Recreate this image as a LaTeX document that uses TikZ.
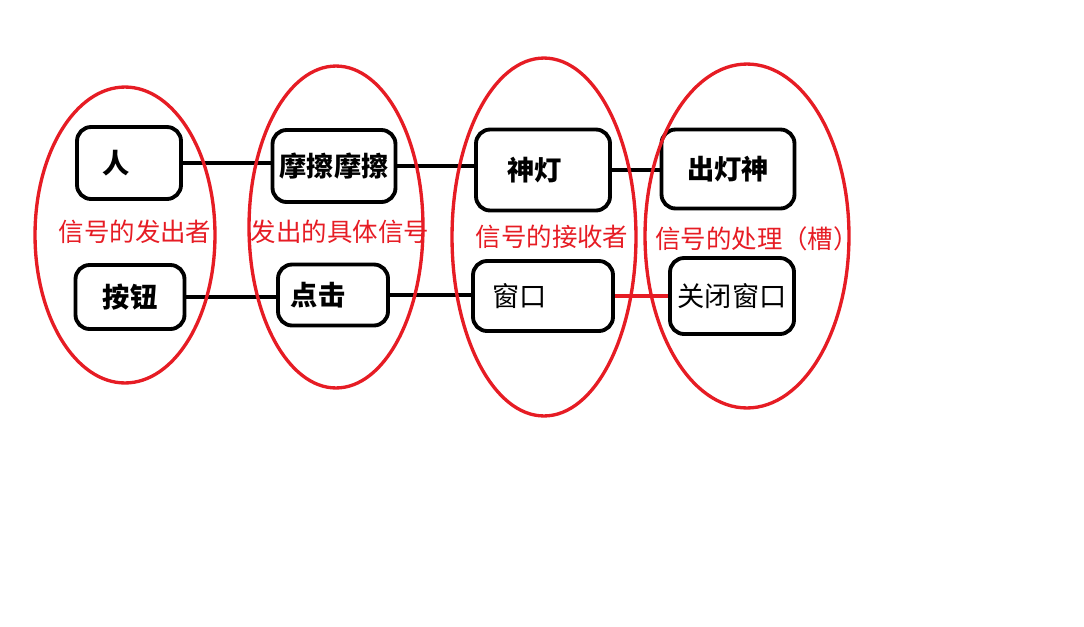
\documentclass[tikz,border=0pt]{standalone}
\usepackage{fontspec}
\newfontfamily\cjk{Noto Sans CJK SC}
\definecolor{sigred}{RGB}{230,28,36}

\begin{document}
\begin{tikzpicture}[x=0.02cm,y=-0.02cm,thick,
    box/.style={draw,line width=2.2pt,rounded corners=8pt,font=\cjk\fontsize{15.5}{18}\selectfont},
    tag/.style={text=sigred,font=\cjk\fontsize{14.5}{17}\selectfont,inner sep=0pt},
    link/.style={line width=2.2pt},
    group/.style={draw=sigred,line width=1.9pt}]

            \useasboundingbox (0,0) rectangle (1084,626);

            \node[box,minimum width=2.08cm,minimum height=1.44cm] (ren) at (129,163) {\bfseries 人\hspace{0.95em}\mbox{}};
            \node[box,minimum width=2.46cm,minimum height=1.44cm] (mo) at (334,166) {\bfseries 摩擦摩擦};
            \node[box,minimum width=2.68cm,minimum height=1.62cm] (deng) at (543,170) {\bfseries 神灯\hspace{0.6em}\mbox{}};
            \node[box,minimum width=2.66cm,minimum height=1.58cm] (chu) at (728,169) {\bfseries 出灯神};
            \node[box,minimum width=2.18cm,minimum height=1.28cm] (an) at (130,297) {\bfseries 按钮};
            \node[box,minimum width=2.20cm,minimum height=1.22cm] (dian) at (333,295) {\bfseries 点击\hspace{1.1em}\mbox{}};
            \node[box,minimum width=2.80cm,minimum height=1.40cm] (chuang) at (543,296) {窗口\hspace{1.7em}\mbox{}};
            \node[box,minimum width=2.48cm,minimum height=1.52cm] (guan) at (732,296) {关闭窗口};

            \draw[link] (ren.east) -- (ren.east -| mo.west);
            \draw[link] (mo.east) -- (mo.east -| deng.west);
            \draw[link] (deng.east) -- (deng.east -| chu.west);
            \draw[link] (an.east) -- (an.east -| dian.west);
            \draw[link] (dian.east) -- (dian.east -| chuang.west);
            \draw[link,sigred] (chuang.east) -- (chuang.east -| guan.west);

            \node[tag] (lab1) at (135,232) {信号的发出者};
            \node[tag] (lab2) at (340,232) {发出的具体信号};
            \node[tag] (lab3) at (552,237) {信号的接收者};
            \node[tag] (lab4) at (757,239) {信号的处理（槽）};

            \draw[group] (125,235) ellipse [x radius=1.8cm, y radius=2.96cm];
            \draw[group] (336,227) ellipse [x radius=1.74cm, y radius=3.22cm];
            \draw[group] (544,237) ellipse [x radius=1.84cm, y radius=3.58cm];
            \draw[group] (747,236) ellipse [x radius=2.04cm, y radius=3.44cm];
            % \draw[link] (an) -- (ren);

            ;
        \end{tikzpicture}
\end{document}
